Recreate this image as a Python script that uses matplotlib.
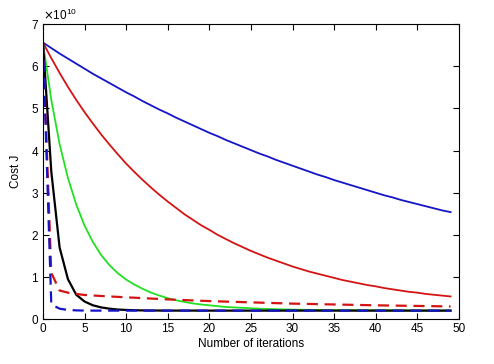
import matplotlib
matplotlib.use("Agg")
import matplotlib.pyplot as plt
from matplotlib.ticker import ScalarFormatter

plt.rcParams['font.family'] = ['Liberation Sans', 'DejaVu Sans']

SCALE = 1e10
iterations = list(range(50))

blue_solid = [6.56, 6.43, 6.30, 6.18, 6.06, 5.94, 5.82, 5.71, 5.60, 5.49,
              5.38, 5.28, 5.17, 5.07, 4.97, 4.88, 4.78, 4.69, 4.60, 4.51,
              4.42, 4.34, 4.25, 4.17, 4.09, 4.01, 3.93, 3.86, 3.78, 3.71,
              3.64, 3.57, 3.50, 3.43, 3.37, 3.30, 3.24, 3.18, 3.12, 3.06,
              3.00, 2.94, 2.89, 2.83, 2.78, 2.73, 2.68, 2.63, 2.58, 2.54]

red_solid = [6.56, 6.19, 5.84, 5.51, 5.20, 4.91, 4.64, 4.38, 4.14, 3.91,
             3.69, 3.49, 3.30, 3.12, 2.95, 2.79, 2.64, 2.49, 2.36, 2.23,
             2.12, 2.00, 1.90, 1.80, 1.71, 1.62, 1.54, 1.46, 1.39, 1.32,
             1.25, 1.19, 1.13, 1.08, 1.03, 0.98, 0.93, 0.89, 0.85, 0.81,
             0.78, 0.74, 0.71, 0.68, 0.65, 0.63, 0.60, 0.58, 0.56, 0.54]

green_solid = [6.56, 5.20, 4.15, 3.35, 2.72, 2.22, 1.83, 1.52, 1.28, 1.09,
               0.94, 0.82, 0.72, 0.63, 0.56, 0.50, 0.45, 0.41, 0.375, 0.35,
               0.33, 0.31, 0.29, 0.28, 0.27, 0.26, 0.25, 0.243, 0.237, 0.232,
               0.228, 0.225, 0.222, 0.220, 0.218, 0.216, 0.215, 0.214, 0.213, 0.212,
               0.211, 0.210, 0.209, 0.208, 0.207, 0.207, 0.206, 0.206, 0.205, 0.205]

black_solid = [6.56, 3.50, 1.70, 0.95, 0.58, 0.42, 0.33, 0.28, 0.25, 0.23,
               0.22, 0.213, 0.209, 0.207, 0.206, 0.205, 0.205, 0.205, 0.205, 0.204,
               0.204, 0.204, 0.204, 0.204, 0.204, 0.204, 0.204, 0.204, 0.204, 0.204,
               0.204, 0.204, 0.204, 0.204, 0.204, 0.204, 0.204, 0.204, 0.204, 0.204,
               0.204, 0.204, 0.204, 0.204, 0.204, 0.204, 0.204, 0.204, 0.204, 0.204]

red_dashed = [6.56, 1.10, 0.68, 0.63, 0.60, 0.575, 0.563, 0.551, 0.54, 0.53,
              0.52, 0.51, 0.50, 0.49, 0.48, 0.47, 0.462, 0.454, 0.446, 0.438,
              0.43, 0.424, 0.418, 0.412, 0.406, 0.40, 0.394, 0.388, 0.382, 0.376,
              0.37, 0.366, 0.362, 0.358, 0.354, 0.35, 0.346, 0.342, 0.338, 0.334,
              0.33, 0.327, 0.324, 0.321, 0.318, 0.315, 0.312, 0.309, 0.306, 0.303]

blue_dashed = [6.56, 0.35, 0.25, 0.22, 0.21, 0.205, 0.204, 0.204, 0.204, 0.204,
               0.204, 0.204, 0.204, 0.204, 0.204, 0.204, 0.204, 0.204, 0.204, 0.204,
               0.204, 0.204, 0.204, 0.204, 0.204, 0.204, 0.204, 0.204, 0.204, 0.204,
               0.204, 0.204, 0.204, 0.204, 0.204, 0.204, 0.204, 0.204, 0.204, 0.204,
               0.204, 0.204, 0.204, 0.204, 0.204, 0.204, 0.204, 0.204, 0.204, 0.204]

x_ticks = [0, 5, 10, 15, 20, 25, 30, 35, 40, 45, 50]
y_ticks = [0, 1, 2, 3, 4, 5, 6, 7]

fig = plt.figure(figsize=(4.94, 3.64), dpi=100)
ax = fig.add_axes([0.087, 0.123, 0.842, 0.811])

def sc(v):
    return [a * SCALE for a in v]

lw = 1.3
ax.plot(iterations, sc(blue_solid), color='#1414c8', lw=lw)
ax.plot(iterations, sc(red_solid), color='#d41414', lw=lw)
ax.plot(iterations, sc(green_solid), color='#22e022', lw=lw)
ax.plot(iterations, sc(black_solid), color='black', lw=lw + 0.3)
ax.plot(iterations, sc(red_dashed), color='#d41414', lw=lw + 0.3, dashes=(5, 3))
ax.plot(iterations, sc(blue_dashed), color='#1414c8', lw=lw + 0.3, dashes=(5, 3))

ax.set_xlim(0, 50)
ax.set_ylim(0, 7 * SCALE)
ax.set_xticks(x_ticks)
ax.set_yticks([t * SCALE for t in y_ticks])
fmt = ScalarFormatter(useMathText=True)
fmt.set_powerlimits((0, 0))
ax.yaxis.set_major_formatter(fmt)

ax.tick_params(direction='in', top=True, right=True, length=4, width=0.8,
               labelsize=8.5, pad=3)
ax.yaxis.get_offset_text().set_fontsize(8.5)
for s in ax.spines.values():
    s.set_linewidth(0.8)

ax.set_xlabel('Number of iterations', fontsize=8.5, labelpad=2)
ax.set_ylabel('Cost J', fontsize=8.5, labelpad=6)

fig.savefig('out.png', dpi=100)
